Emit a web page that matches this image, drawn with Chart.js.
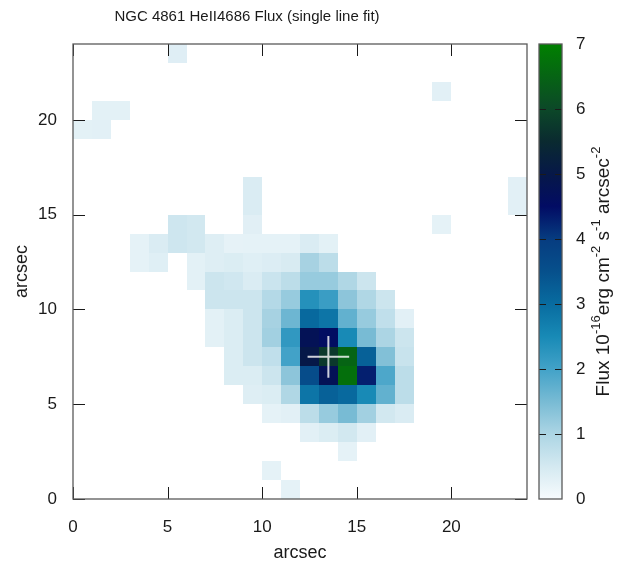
<!DOCTYPE html>
<html>
<head>
<meta charset="utf-8">
<script src="https://cdn.jsdelivr.net/npm/chart.js@4.4.1/dist/chart.umd.min.js"></script>
<style>
    html, body { margin: 0; padding: 0; background: #fff; }
    #wrap { width: 632px; height: 561px; }
</style>
</head>
<body>
<div id="wrap"><canvas id="fluxMap" width="632" height="561"></canvas></div>
<script>
// spaxel map: one entry per row (arcsec), with the columns and flux of its cells
const mapRows = [23, 21, 20, 19, 16, 15, 14, 13, 12, 11, 10, 9, 8, 7, 6, 5, 4, 3, 2, 1, 0];
const mapCols = [
    [5],
    [19],
    [1, 2],
    [0, 1],
    [9, 23],
    [9, 23],
    [5, 6, 9, 19],
    [3, 4, 5, 6, 7, 8, 9, 10, 11, 12, 13],
    [3, 4, 6, 7, 8, 9, 10, 11, 12, 13],
    [6, 7, 8, 9, 10, 11, 12, 13, 14, 15],
    [7, 8, 9, 10, 11, 12, 13, 14, 15, 16],
    [7, 8, 9, 10, 11, 12, 13, 14, 15, 16, 17],
    [7, 8, 9, 10, 11, 12, 13, 14, 15, 16, 17],
    [8, 9, 10, 11, 12, 13, 14, 15, 16, 17],
    [8, 9, 10, 11, 12, 13, 14, 15, 16, 17],
    [9, 10, 11, 12, 13, 14, 15, 16, 17],
    [10, 11, 12, 13, 14, 15, 16, 17],
    [12, 13, 14, 15],
    [14],
    [10],
    [11]
];
const mapFlux = [
    [0.35],
    [0.30],
    [0.28, 0.28],
    [0.28, 0.30],
    [0.42, 0.30],
    [0.42, 0.30],
    [0.58, 0.52, 0.32, 0.26],
    [0.26, 0.42, 0.58, 0.52, 0.36, 0.24, 0.26, 0.26, 0.26, 0.42, 0.28],
    [0.26, 0.34, 0.28, 0.36, 0.40, 0.34, 0.38, 0.45, 1.05, 0.80],
    [0.28, 0.60, 0.55, 0.42, 0.62, 0.80, 1.20, 1.20, 0.95, 0.60],
    [0.60, 0.60, 0.60, 0.90, 1.20, 2.35, 2.10, 1.30, 0.95, 0.60],
    [0.28, 0.40, 0.60, 1.05, 1.60, 3.05, 2.85, 1.70, 1.20, 0.75, 0.30],
    [0.28, 0.40, 0.60, 1.10, 2.20, 4.75, 4.55, 2.50, 1.50, 1.00, 0.60],
    [0.40, 0.60, 0.75, 2.00, 5.00, 5.75, 6.50, 3.20, 1.40, 0.65],
    [0.40, 0.40, 0.60, 1.30, 3.60, 4.75, 6.70, 4.30, 1.90, 0.80],
    [0.36, 0.40, 0.95, 2.85, 3.20, 3.05, 2.50, 1.70, 0.80],
    [0.26, 0.30, 0.80, 1.20, 1.50, 1.10, 0.52, 0.42],
    [0.30, 0.40, 0.52, 0.30],
    [0.26],
    [0.26],
    [0.26]
];

const xTicks = [0, 5, 10, 15, 20];
const yTicks = [0, 5, 10, 15, 20];
const fluxTicks = [0, 1, 2, 3, 4, 5, 6, 7];

// continuum centre marker
const crossX = 13.5;
const crossY = 7.5;
const crossHalf = 1.1;

// palette (flux -> rgb)
const paletteStops = [
    [0, [247, 251, 253]],
    [0.5, [212, 233, 241]],
    [1, [172, 213, 228]],
    [1.5, [120, 187, 212]],
    [2, [66, 162, 200]],
    [2.5, [24, 138, 182]],
    [3, [8, 108, 160]],
    [3.5, [6, 80, 140]],
    [4, [6, 60, 128]],
    [4.5, [2, 12, 100]],
    [5, [6, 24, 72]],
    [5.5, [10, 42, 48]],
    [6, [12, 72, 40]],
    [7, [0, 128, 0]]
];

function fluxColor(v) {
    for (let i = 1; i < paletteStops.length; i++) {
        const [v1, c1] = paletteStops[i];
        const [v0, c0] = paletteStops[i - 1];
        if (v <= v1) {
            const t = (v - v0) / (v1 - v0);
            const c = c0.map((a, k) => Math.round(a + (c1[k] - a) * t));
            return `rgb(${c[0]}, ${c[1]}, ${c[2]})`;
        }
    }
    const c = paletteStops[paletteStops.length - 1][1];
    return `rgb(${c[0]}, ${c[1]}, ${c[2]})`;
}

const cells = [];
mapRows.forEach((row, i) => {
    mapCols[i].forEach((col, j) => {
        cells.push({ x: col + 0.5, y: row + 0.5, v: mapFlux[i][j] });
    });
});

const FONT = 'Liberation Sans, Arial, Helvetica, sans-serif';
const INK = '#1a1a1a';

const fluxMapPlugin = {
    id: 'fluxMap',
    beforeDatasetsDraw(chart) {
        const { ctx, scales: { x, y } } = chart;
        ctx.save();
        chart.data.datasets[0].data.forEach((c) => {
            const x0 = Math.round(x.getPixelForValue(c.x - 0.5));
            const x1 = Math.round(x.getPixelForValue(c.x + 0.5));
            const y0 = Math.round(y.getPixelForValue(c.y + 0.5));
            const y1 = Math.round(y.getPixelForValue(c.y - 0.5));
            ctx.fillStyle = fluxColor(c.v);
            ctx.fillRect(x0, y0, x1 - x0, y1 - y0);
        });
        ctx.restore();
    },
    afterDraw(chart) {
        const { ctx, chartArea: area, scales: { x, y, cb } } = chart;
        ctx.save();

        // centre cross
        ctx.strokeStyle = 'rgba(255, 255, 255, 0.8)';
        ctx.lineWidth = 2;
        ctx.beginPath();
        ctx.moveTo(x.getPixelForValue(crossX - crossHalf), y.getPixelForValue(crossY));
        ctx.lineTo(x.getPixelForValue(crossX + crossHalf), y.getPixelForValue(crossY));
        ctx.moveTo(x.getPixelForValue(crossX), y.getPixelForValue(crossY - crossHalf));
        ctx.lineTo(x.getPixelForValue(crossX), y.getPixelForValue(crossY + crossHalf));
        ctx.stroke();

        // inward ticks on all four sides
        ctx.strokeStyle = INK;
        ctx.lineWidth = 1;
        ctx.beginPath();
        xTicks.forEach((v) => {
            const px = Math.round(x.getPixelForValue(v)) + 0.5;
            ctx.moveTo(px, area.bottom); ctx.lineTo(px, area.bottom - 12);
            ctx.moveTo(px, area.top); ctx.lineTo(px, area.top + 12);
        });
        yTicks.forEach((v) => {
            const py = Math.round(y.getPixelForValue(v)) + 0.5;
            ctx.moveTo(area.left, py); ctx.lineTo(area.left + 12, py);
            ctx.moveTo(area.right, py); ctx.lineTo(area.right - 12, py);
        });
        ctx.stroke();

        // frame
        ctx.strokeStyle = '#5a5a5a';
        ctx.lineWidth = 1.3;
        ctx.strokeRect(area.left, area.top, area.right - area.left, area.bottom - area.top);

        // colour bar
        const barL = area.right + 12;
        const barR = area.right + 35;
        const top = cb.getPixelForValue(fluxTicks[fluxTicks.length - 1]);
        const bottom = cb.getPixelForValue(fluxTicks[0]);
        const grad = ctx.createLinearGradient(0, bottom, 0, top);
        const vmax = fluxTicks[fluxTicks.length - 1];
        paletteStops.forEach(([v]) => grad.addColorStop(v / vmax, fluxColor(v)));
        ctx.fillStyle = grad;
        ctx.fillRect(barL, top, barR - barL, bottom - top);

        ctx.strokeStyle = INK;
        ctx.lineWidth = 1;
        ctx.beginPath();
        fluxTicks.slice(1, -1).forEach((v) => {
            const py = Math.round(cb.getPixelForValue(v)) + 0.5;
            ctx.moveTo(barL, py); ctx.lineTo(barL + 7, py);
            ctx.moveTo(barR, py); ctx.lineTo(barR - 7, py);
        });
        ctx.stroke();
        ctx.strokeStyle = '#5a5a5a';
        ctx.lineWidth = 1.3;
        ctx.strokeRect(barL, top, barR - barL, bottom - top);

        // colour bar label with superscripts
        const parts = [
            ['Flux 10', false], ['-16', true], ['erg cm', false], ['-2', true],
            [' s', false], ['-1', true], [' arcsec', false], ['-2', true]
        ];
        const big = `19px ${FONT}`;
        const small = `13px ${FONT}`;
        let total = 0;
        parts.forEach(([t, sup]) => {
            ctx.font = sup ? small : big;
            total += ctx.measureText(t).width;
        });
        ctx.translate(area.right + 82, (area.top + area.bottom) / 2);
        ctx.rotate(-Math.PI / 2);
        ctx.fillStyle = INK;
        ctx.textBaseline = 'alphabetic';
        let cx = -total / 2;
        parts.forEach(([t, sup]) => {
            ctx.font = sup ? small : big;
            ctx.fillText(t, cx, sup ? -9 : 0);
            cx += ctx.measureText(t).width;
        });
        ctx.restore();

        // title
        ctx.save();
        ctx.font = `15px ${FONT}`;
        ctx.fillStyle = INK;
        ctx.textAlign = 'center';
        ctx.textBaseline = 'middle';
        ctx.fillText('NGC 4861 HeII4686 Flux (single line fit)', 247, 17);
        ctx.restore();
    }
};

new Chart(document.getElementById('fluxMap').getContext('2d'), {
    type: 'scatter',
    data: {
        datasets: [{
            label: 'HeII4686 flux',
            data: cells,
            pointRadius: 0,
            pointHoverRadius: 0
        }]
    },
    options: {
        responsive: false,
        animation: false,
        events: [],
        layout: {
            padding: { top: 44, left: 0, right: 0, bottom: 0 }
        },
        plugins: {
            legend: { display: false },
            tooltip: { enabled: false }
        },
        scales: {
            x: {
                type: 'linear',
                min: 0,
                max: 24,
                afterBuildTicks: (s) => { s.ticks = xTicks.map((v) => ({ value: v })); },
                afterFit: (s) => { s.height = 62; },
                grid: { display: false },
                border: { display: false },
                ticks: { padding: 10, color: INK, font: { family: FONT, size: 17 } },
                title: {
                    display: true,
                    text: 'arcsec',
                    color: INK,
                    font: { family: FONT, size: 18 },
                    padding: { top: 0, bottom: -3 }
                }
            },
            y: {
                type: 'linear',
                min: 0,
                max: 24,
                afterBuildTicks: (s) => { s.ticks = yTicks.map((v) => ({ value: v })); },
                afterFit: (s) => { s.width = 73; },
                grid: { display: false },
                border: { display: false },
                ticks: { padding: 8, color: INK, font: { family: FONT, size: 17 } },
                title: {
                    display: true,
                    text: 'arcsec',
                    color: INK,
                    font: { family: FONT, size: 18 },
                    padding: { top: 11, bottom: 0 }
                }
            },
            cb: {
                type: 'linear',
                position: 'right',
                min: 0,
                max: 7,
                afterBuildTicks: (s) => { s.ticks = fluxTicks.map((v) => ({ value: v })); },
                afterFit: (s) => { s.width = 105; },
                grid: {
                    display: true,
                    drawOnChartArea: false,
                    drawTicks: true,
                    tickLength: 46,
                    color: 'rgba(0, 0, 0, 0)'
                },
                border: { display: false },
                ticks: { padding: 3, color: INK, font: { family: FONT, size: 17 } }
            }
        }
    },
    plugins: [fluxMapPlugin]
});
</script>
</body>
</html>
